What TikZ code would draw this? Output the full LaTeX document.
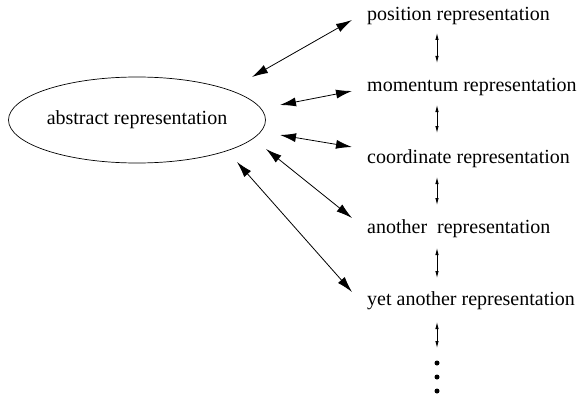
\documentclass[tikz,border=0pt]{standalone}
\usepackage{fontspec}
\setmainfont{Liberation Serif}
\usetikzlibrary{arrows.meta,calc,shapes.geometric}
\begin{document}
\begin{tikzpicture}[x=1pt,y=-1pt,
  lbl/.style={anchor=base west,inner sep=0pt,font=\fontsize{20}{24}\selectfont},
  bigarrow/.style={{Latex[length=16pt,width=9pt]}-{Latex[length=16pt,width=9pt]},line width=0.8pt},
  smallarrow/.style={{Latex[length=7pt,width=3.5pt]}-{Latex[length=7pt,width=3.5pt]},line width=0.8pt},
  dotn/.style={circle,fill,inner sep=0pt,minimum size=5pt}]
\path[use as bounding box] (0,0) rectangle (581,396);
\node[ellipse,draw,line width=0.7pt,minimum width=257pt,minimum height=86pt,inner sep=0pt,font=\fontsize{20}{24}\selectfont] (abs) at (137,120) {abstract representation};
\node[lbl] (p1) at (367,21) {position representation};
\node[lbl] (p2) at (367,92) {momentum representation};
\node[lbl] (p3) at (367,163) {coordinate representation};
\node[lbl] (p4) at (367,233) {another\ \ representation};
\node[lbl] (p5) at (367,305) {yet another representation};
\node[dotn] (d1) at (437,363) {};
\node[dotn] (d2) at (437,377) {};
\node[dotn] (d3) at (437,391) {};
% diagonal connectors
\coordinate (a1) at ($(abs.center)+(115,-43)$);
\coordinate (a2) at ($(abs.center)+(143,-15)$);
\coordinate (a3) at ($(abs.center)+(143,15)$);
\coordinate (a4) at ($(abs.center)+(129,29)$);
\coordinate (a5) at ($(abs.center)+(100,42)$);
\coordinate (b1) at ($(p1.base west)+(-15,-1)$);
\coordinate (b2) at ($(p2.base west)+(-15,-1)$);
\coordinate (b3) at ($(p3.base west)+(-15,-16)$);
\coordinate (b4) at ($(p4.base west)+(-15,-15)$);
\coordinate (b5) at ($(p5.base west)+(-15,-13)$);
\draw[bigarrow] (a1) -- (b1);
\draw[bigarrow] (a2) -- (b2);
\draw[bigarrow] (a3) -- (b3);
\draw[bigarrow] (a4) -- (b4);
\draw[bigarrow] (a5) -- (b5);
% vertical connectors
\draw[smallarrow] ($(p1.base west)+(70,12)$) -- ($(p2.base west)+(70,-29)$);
\draw[smallarrow] ($(p2.base west)+(70,13)$) -- ($(p3.base west)+(70,-30)$);
\draw[smallarrow] ($(p3.base west)+(70,14)$) -- ($(p4.base west)+(70,-28)$);
\draw[smallarrow] ($(p4.base west)+(70,15)$) -- ($(p5.base west)+(70,-27)$);
\draw[smallarrow] ($(p5.base west)+(70,17)$) -- ($(d1.center)+(0,-15)$);
\end{tikzpicture}
\end{document}
